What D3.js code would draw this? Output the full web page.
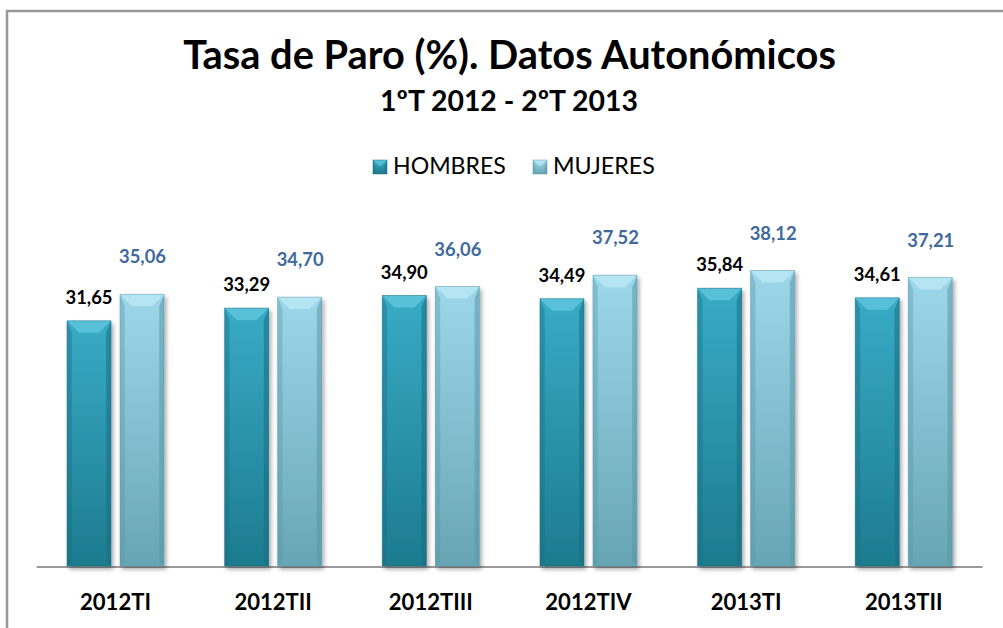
<!DOCTYPE html>
<meta charset="utf-8">
<style>
body,html{ margin:0; padding:0; background:#fff; }
svg{ display:block; font-family: Lato, "Open Sans", sans-serif; }
</style>
<svg width="1003" height="628"></svg>
<script src="https://d3js.org/d3.v7.min.js"></script>
<script>

// data
var categories = ["2012TI", "2012TII", "2012TIII", "2012TIV", "2013TI", "2013TII"];
var series = ["HOMBRES", "MUJERES"];
var hombres = [31.65, 33.29, 34.90, 34.49, 35.84, 34.61];
var mujeres = [35.06, 34.70, 36.06, 37.52, 38.12, 37.21];
var title = "Tasa de Paro (%). Datos Autonómicos";
var subtitle = "1ºT 2012 - 2ºT 2013";

var svg = d3.select("svg"),
    width = +svg.attr("width"),
    height = +svg.attr("height");

var colors = {
  HOMBRES: { top: "#38abc6", bottom: "#1d7b8f", bevel: "#6fd0e6", side: "#1a6d80", label: "#000" },
  MUJERES: { top: "#9dd8ea", bottom: "#67a5b4", bevel: "#c6eef8", side: "#5a98a8", label: "#41699c" }
};

var defs = svg.append("defs");
series.forEach(function(s) {
  var g = defs.append("linearGradient").attr("id", "grad-" + s)
      .attr("x1", 0).attr("y1", 0).attr("x2", 0).attr("y2", 1);
  g.append("stop").attr("offset", "0%").attr("stop-color", colors[s].top);
  g.append("stop").attr("offset", "100%").attr("stop-color", colors[s].bottom);
});
var f = defs.append("filter").attr("id", "shadow")
    .attr("x", "-20%").attr("y", "-10%").attr("width", "150%").attr("height", "130%");
f.append("feDropShadow").attr("dx", 2).attr("dy", 3).attr("stdDeviation", 2)
    .attr("flood-color", "#000").attr("flood-opacity", 0.35);

// frame
svg.append("rect")
    .attr("x", 7).attr("y", 11).attr("width", 1100).attr("height", 800)
    .attr("fill", "none").attr("stroke", "#999").attr("stroke-width", 2.5);

var x0 = d3.scaleBand().domain(categories).range([36.7, 982.6]);
var x1 = d3.scaleBand().domain(series).range([0, x0.bandwidth()])
    .paddingInner(0.17).paddingOuter(0.572);
var y = d3.scaleLinear().domain([0, 45]).range([567, 217]);

function fit(sel, target) {
  var w = sel.node().getComputedTextLength();
  var fs = parseFloat(sel.attr("font-size"));
  sel.attr("font-size", fs * target / w);
  return fs * target / w;
}

// titles
var t = svg.append("text").attr("x", 509.5).attr("y", 69).attr("text-anchor", "middle")
    .attr("font-weight", "bold").attr("font-size", 36).text(title);
fit(t, 653);
var st = svg.append("text").attr("x", 509).attr("y", 111).attr("text-anchor", "middle")
    .attr("font-weight", "bold").attr("font-size", 22).text(subtitle);
fit(st, 258);

// bevelled box
function bevelBox(g, s, bx, by, bw, bh, b) {
  var c = colors[s];
  g.append("rect").attr("x", bx).attr("y", by).attr("width", bw).attr("height", bh)
      .attr("fill", "url(#grad-" + s + ")");
  // top bevel
  g.append("path")
      .attr("d", "M" + bx + "," + by + "L" + (bx + bw) + "," + by +
                 "L" + (bx + bw - b) + "," + (by + b) + "L" + (bx + b) + "," + (by + b) + "Z")
      .attr("fill", c.bevel).attr("opacity", 0.6);
  // sides
  g.append("path")
      .attr("d", "M" + bx + "," + by + "L" + (bx + b * 0.4) + "," + (by + b) +
                 "L" + (bx + b * 0.4) + "," + (by + bh - b * 0.3) + "L" + bx + "," + (by + bh) + "Z")
      .attr("fill", c.side).attr("opacity", 0.4);
  g.append("path")
      .attr("d", "M" + (bx + bw) + "," + by + "L" + (bx + bw - b * 0.4) + "," + (by + b) +
                 "L" + (bx + bw - b * 0.4) + "," + (by + bh - b * 0.3) + "L" + (bx + bw) + "," + (by + bh) + "Z")
      .attr("fill", c.side).attr("opacity", 0.55);
  g.append("rect").attr("x", bx).attr("y", by).attr("width", bw).attr("height", bh)
      .attr("fill", "none").attr("stroke", c.side).attr("stroke-width", 0.8).attr("stroke-opacity", 0.6);
}

// legend
var legendPos = { HOMBRES: [373, 393, 113], MUJERES: [533, 553, 102] };
series.forEach(function(s) {
  var p = legendPos[s];
  bevelBox(svg.append("g"), s, p[0], 160, 14, 14, 6);
  var lt = svg.append("text").attr("x", p[1]).attr("y", 174).attr("font-size", 22)
      .attr("fill", "#000").text(s);
  fit(lt, p[2]);
});

// axis line
svg.append("line").attr("x1", 36.7).attr("x2", 982.6).attr("y1", 567).attr("y2", 567)
    .attr("stroke", "#9a9a9a").attr("stroke-width", 2);

// bars
var rows = categories.map(function(c, i) {
  return { cat: c, values: [{ s: "HOMBRES", v: hombres[i] }, { s: "MUJERES", v: mujeres[i] }] };
});

var groups = svg.append("g").selectAll("g").data(rows).join("g")
    .attr("transform", function(d) { return "translate(" + x0(d.cat) + ",0)"; });

groups.each(function(d) {
  var g = d3.select(this);
  d.values.forEach(function(v) {
    var bg = g.append("g").attr("filter", "url(#shadow)");
    bevelBox(bg, v.s, x1(v.s), y(v.v), x1.bandwidth(), y(0) - y(v.v) - 1, 12);
  });
});

// value labels
var labelSize = null;
groups.each(function(d) {
  var g = d3.select(this);
  d.values.forEach(function(v) {
    var off = v.s === "HOMBRES" ? 17 : 31;
    var lab = g.append("text")
        .attr("x", x1(v.s) + x1.bandwidth() / 2 + (v.s === "MUJERES" ? 0.5 : 0))
        .attr("y", y(v.v) - off)
        .attr("text-anchor", "middle").attr("font-weight", "bold")
        .attr("font-size", labelSize || 18)
        .attr("fill", colors[v.s].label)
        .text(d3.format(".2f")(v.v).replace(".", ","));
    if (!labelSize) labelSize = fit(lab, 47);
  });
});

// category labels
var catSize = null;
categories.forEach(function(c) {
  var ct = svg.append("text").attr("x", x0(c) + x0.bandwidth() / 2).attr("y", 610)
      .attr("text-anchor", "middle").attr("font-weight", "bold")
      .attr("font-size", catSize || 22).attr("fill", "#000").text(c);
  if (!catSize) catSize = fit(ct, 71);
});

</script>
